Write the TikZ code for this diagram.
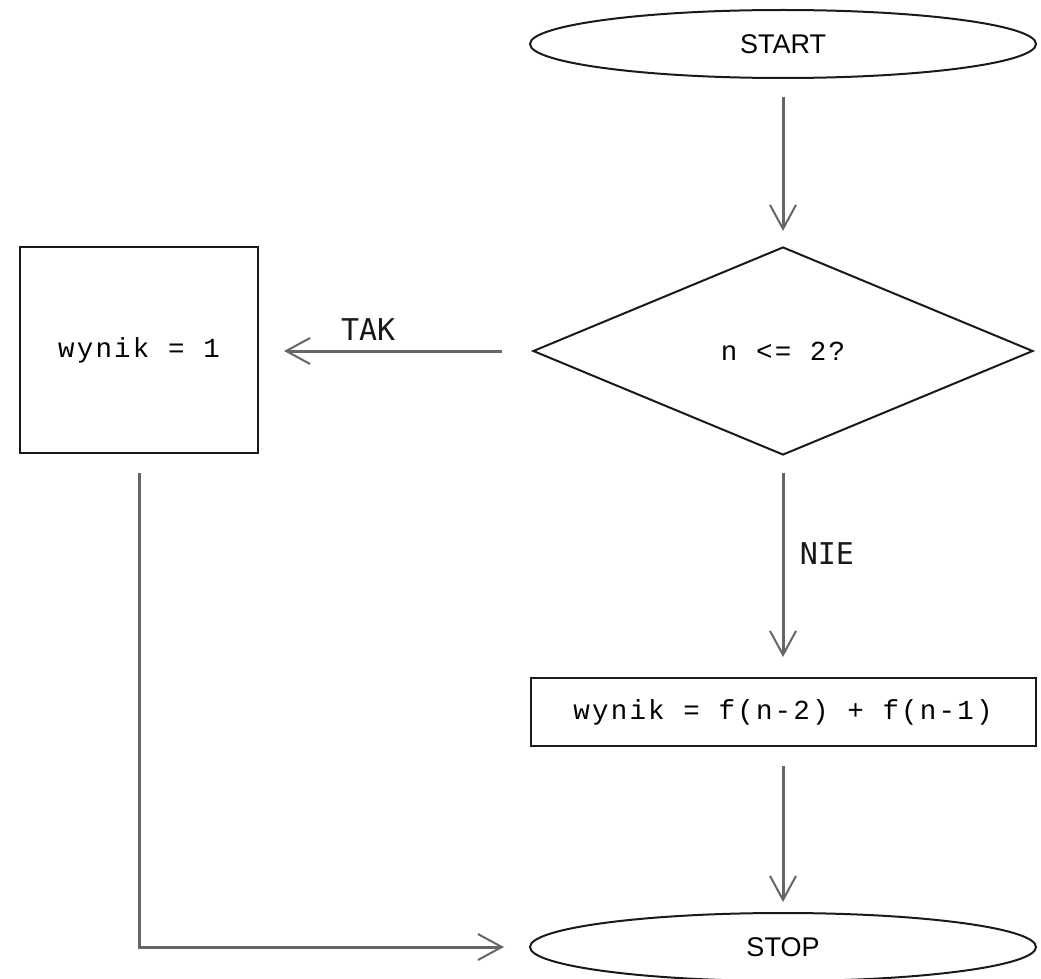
\documentclass[tikz,border=0pt]{standalone}
\usepackage{fontspec}
\usetikzlibrary{shapes.geometric,arrows.meta}
\newfontfamily\boxfont[LetterSpace=8]{Liberation Mono}
\newfontfamily\labfont{DejaVu Sans Mono}
\newfontfamily\termfont{Liberation Sans}
\definecolor{linegray}{HTML}{666666}
\definecolor{edge}{HTML}{1A1A1A}
\begin{document}
\begin{tikzpicture}[x=1pt,y=-1pt,
  term/.style={ellipse,draw=edge,line width=2pt,inner sep=0pt,minimum width=506pt,minimum height=68pt,font=\termfont\fontsize{27}{30}\selectfont},
  procbox/.style={rectangle,draw=edge,line width=2pt,inner sep=0pt,font=\boxfont\fontsize{27.5}{32}\selectfont},
  decbox/.style={diamond,draw=edge,line width=2pt,inner sep=0pt,minimum width=500pt,minimum height=208pt,font=\boxfont\fontsize{27.5}{32}\selectfont},
  arr/.style={draw=linegray,line width=3pt,-{Straight Barb[length=24pt,width=26pt,line width=2pt]}},
  lab/.style={font=\labfont\fontsize{30}{34}\selectfont,text=black!90}]
\useasboundingbox (0,0) rectangle (1041,979);
\node[term] (start) at (783,44) {START};
\node[decbox] (dec) at (783,351) {n <= 2?};
\node[procbox,minimum width=238pt,minimum height=206pt] (one) at (139,350) {wynik = 1};
\node[procbox,minimum width=505pt,minimum height=68pt] (calc) at (783,712) {wynik = f(n-2) + f(n-1)};
\node[term] (stop) at (783,947) {STOP};
\draw[arr,shorten <=18pt,shorten >=15pt] (start) -- (dec);
\draw[arr,shorten <=30pt,shorten >=25pt] (dec.west) -- (one.east |- dec.west)
  node[lab,pos=0.6,above=6pt] (tak) {TAK};
\draw[arr,shorten <=17pt,shorten >=20pt] (dec.south) -- (calc.north)
  node[lab,pos=0.44,right=12pt] (nie) {NIE};
\draw[arr,shorten <=19pt,shorten >=10pt] (calc) -- (stop);
\draw[arr,shorten <=19pt,shorten >=25pt] (one.south) |- (stop.west);
\end{tikzpicture}
\end{document}
